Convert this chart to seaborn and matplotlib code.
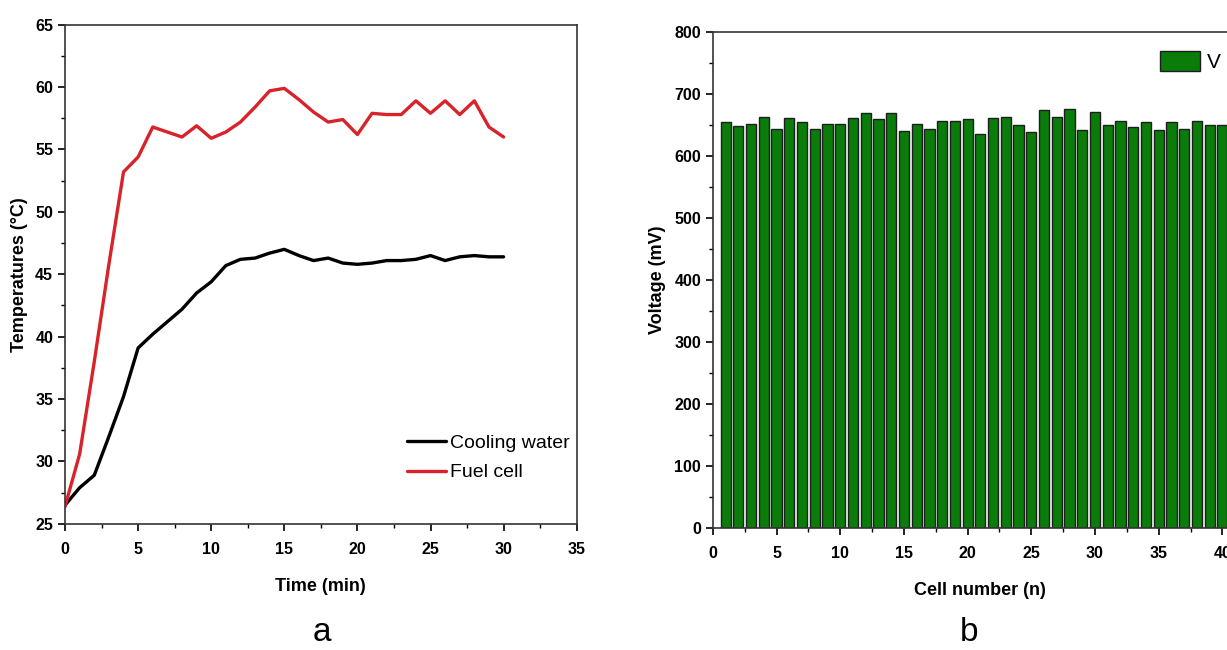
import numpy as np
import pandas as pd
import seaborn as sns
import matplotlib.pyplot as plt
from matplotlib.ticker import MultipleLocator
import warnings

warnings.filterwarnings("ignore")

# ---- panel a: temperatures over time ----
time_min = list(range(0, 31))
cooling_water = [26.5, 27.9, 28.9, 32.0, 35.2, 39.1, 40.2, 41.2, 42.2, 43.5,
                 44.4, 45.7, 46.2, 46.3, 46.7, 47.0, 46.5, 46.1, 46.3, 45.9,
                 45.8, 45.9, 46.1, 46.1, 46.2, 46.5, 46.1, 46.4, 46.5, 46.4,
                 46.4]
fuel_cell = [26.4, 30.6, 38.0, 45.8, 53.2, 54.4, 56.8, 56.4, 56.0, 56.9,
             55.9, 56.4, 57.2, 58.4, 59.7, 59.9, 59.0, 58.0, 57.2, 57.4,
             56.2, 57.9, 57.8, 57.8, 58.9, 57.9, 58.9, 57.8, 58.9, 56.8,
             56.0]

# ---- panel b: cell voltages ----
cell_number = list(range(1, 41))
voltage_mv = [655, 648, 651, 663, 643, 661, 654, 643, 652, 652,
              661, 669, 659, 669, 640, 652, 644, 657, 657, 660,
              636, 661, 663, 649, 639, 674, 662, 675, 642, 671,
              649, 656, 646, 654, 642, 654, 644, 657, 649, 649]

sns.set_style("ticks")
plt.rcParams["font.family"] = ["Liberation Sans", "DejaVu Sans"]
plt.rcParams["text.color"] = "black"
plt.rcParams["axes.labelcolor"] = "black"
plt.rcParams["xtick.color"] = "black"
plt.rcParams["ytick.color"] = "black"

fig = plt.figure(figsize=(12.27, 6.5), dpi=100)
ax1 = fig.add_axes([0.053, 0.194, 0.417, 0.768])
ax2 = fig.add_axes([0.581, 0.188, 0.436, 0.763])

# panel a
sns.lineplot(x=time_min, y=cooling_water, color="black", linewidth=2.4,
             label="Cooling water", ax=ax1)
sns.lineplot(x=time_min, y=fuel_cell, color="#d8232a", linewidth=2.4,
             label="Fuel cell", ax=ax1)
ax1.set_xlim(0, 35)
ax1.set_ylim(25, 65)
ax1.xaxis.set_major_locator(MultipleLocator(5))
ax1.xaxis.set_minor_locator(MultipleLocator(2.5))
ax1.yaxis.set_major_locator(MultipleLocator(5))
ax1.yaxis.set_minor_locator(MultipleLocator(2.5))
ax1.set_xlabel("Time (min)", fontweight="bold", fontsize=13, labelpad=15)
ax1.set_ylabel("Temperatures (\u00b0C)", fontweight="bold", fontsize=13,
               labelpad=5)
ax1.legend(loc="lower right", bbox_to_anchor=(1.02, 0.05), frameon=False,
           prop={"size": 14}, handlelength=2.0, handletextpad=0.2,
           labelspacing=0.6)

# panel b
sns.barplot(x=cell_number, y=voltage_mv, native_scale=True, width=0.8,
            color="#0a7c0a", saturation=1, edgecolor="#1e1e1e",
            linewidth=1.0, label="V", ax=ax2)
ax2.set_xlim(0, 42)
ax2.set_ylim(0, 800)
ax2.xaxis.set_major_locator(MultipleLocator(5))
ax2.xaxis.set_minor_locator(MultipleLocator(2.5))
ax2.yaxis.set_major_locator(MultipleLocator(100))
ax2.yaxis.set_minor_locator(MultipleLocator(50))
ax2.set_xlabel("Cell number (n)", fontweight="bold", fontsize=13,
               labelpad=15)
ax2.set_ylabel("Voltage (mV)", fontweight="bold", fontsize=13, labelpad=6)
ax2.legend(loc="upper left", bbox_to_anchor=(0.80, 0.999), frameon=False,
           prop={"size": 15}, handlelength=1.95, handleheight=1.1,
           handletextpad=0.3)

for ax in (ax1, ax2):
    for side in ax.spines.values():
        side.set_linewidth(1.2)
        side.set_color("#333333")
    ax.tick_params(which="major", direction="out", length=5, width=1.2,
                   labelsize=11.5, top=False, right=False)
    ax.tick_params(axis="x", which="major", pad=8)
    ax.tick_params(which="minor", direction="out", length=3, width=1.0,
                   top=False, right=False)
    for lbl in ax.get_xticklabels() + ax.get_yticklabels():
        lbl.set_fontweight("bold")

fig.text(0.262, 0.014, "a", fontsize=24, ha="center")
fig.text(0.79, 0.014, "b", fontsize=24, ha="center")

plt.savefig("out.png", dpi=100)
plt.close()
